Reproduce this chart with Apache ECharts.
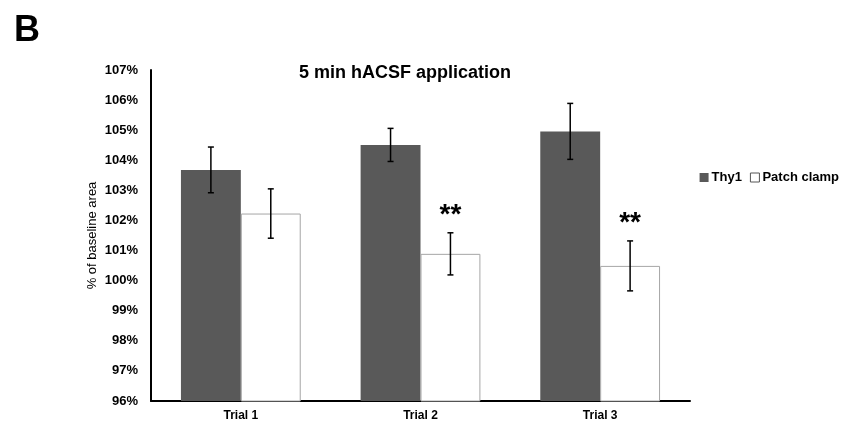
<!DOCTYPE html>
<html><head><meta charset="utf-8">
<script src="https://cdn.jsdelivr.net/npm/echarts@6/dist/echarts.min.js"></script>
<style>html,body{margin:0;padding:0;background:#fff}#c{width:848px;height:430px}</style>
</head><body><div id="c"></div>
<script>
var categories = ['Trial 1', 'Trial 2', 'Trial 3'];
var thy1 = [103.68, 104.51, 104.96];
var thy1Err = [0.76, 0.55, 0.93];
var patch = [102.23, 100.89, 100.49];
var patchErr = [0.82, 0.70, 0.83];
var significance = ['', '**', '**'];
var yTicks = [96, 97, 98, 99, 100, 101, 102, 103, 104, 105, 106, 107];

var FONT = 'Liberation Sans, Arial, sans-serif';
var chart = echarts.init(document.getElementById('c'));

function errSeries(vals, errs, seriesIdx) {
  return {
    type: 'custom',
    z: 5,
    silent: true,
    data: vals.map(function (v, i) { return [i, v - errs[i], v + errs[i]]; }),
    renderItem: function (params, api) {
      var i = api.value(0);
      var lo = api.coord([i, api.value(1)]);
      var hi = api.coord([i, api.value(2)]);
      var bw = api.size([1, 0])[0];
      var barW = bw * (1 - 0.3333) / 2;
      var x = lo[0] + (seriesIdx === 0 ? -barW / 2 : barW / 2);
      var cap = 3;
      var st = { stroke: '#000', lineWidth: 1.5 };
      return { type: 'group', children: [
        { type: 'line', shape: { x1: x, y1: lo[1], x2: x, y2: hi[1] }, style: st },
        { type: 'line', shape: { x1: x - cap, y1: lo[1], x2: x + cap, y2: lo[1] }, style: st },
        { type: 'line', shape: { x1: x - cap, y1: hi[1], x2: x + cap, y2: hi[1] }, style: st }
      ]};
    }
  };
}

chart.setOption({
  animation: false,
  backgroundColor: '#fff',
  title: [
    { text: 'B', left: 9, top: 8, textStyle: { fontFamily: FONT, fontSize: 36, fontWeight: 'bold', color: '#000' } },
    { text: '5 min hACSF application', left: 400, top: 59, textAlign: 'center', textStyle: { fontFamily: FONT, fontSize: 18, fontWeight: 'bold', color: '#000' } }
  ],
  legend: {
    right: 4, top: 166, itemGap: 8, itemWidth: 9, itemHeight: 9,
    icon: 'rect',
    textStyle: { fontFamily: FONT, fontSize: 13, fontWeight: 'bold', color: '#000', padding: [0, 0, 0, -2] },
    data: [
      { name: 'Thy1', itemStyle: { color: '#595959', borderColor: '#595959' } },
      { name: 'Patch clamp', itemStyle: { color: '#fff', borderColor: '#555', borderWidth: 1 } }
    ]
  },
  grid: { left: 151, right: 158, top: 70, bottom: 29 },
  xAxis: {
    type: 'category', data: categories,
    axisLine: { lineStyle: { color: '#000', width: 2 } },
    axisTick: { show: false },
    axisLabel: { fontFamily: FONT, fontSize: 12, fontWeight: 'bold', color: '#000', margin: 9 }
  },
  yAxis: {
    type: 'value', min: 96, max: 107, interval: 1,
    name: '% of baseline area', nameLocation: 'middle', nameGap: 52, nameMoveOverlap: false,
    nameTextStyle: { fontFamily: FONT, fontSize: 13, color: '#000' },
    axisLine: { show: true, lineStyle: { color: '#000', width: 2 } },
    axisTick: { show: false },
    splitLine: { show: false },
    axisLabel: { fontFamily: FONT, fontSize: 13, fontWeight: 'bold', color: '#000', margin: 13,
      formatter: function (v) { return yTicks.indexOf(v) >= 0 ? v + '%' : ''; } }
  },
  series: [
    { name: 'Thy1', type: 'bar', data: thy1, barGap: '0%', barCategoryGap: '33.33%',
      itemStyle: { color: '#595959' } },
    { name: 'Patch clamp', type: 'bar', data: patch,
      itemStyle: { color: '#fff', borderColor: '#a6a6a6', borderWidth: 1 } },
    errSeries(thy1, thy1Err, 0),
    errSeries(patch, patchErr, 1),
    {
      type: 'custom', z: 6, silent: true,
      data: patch.map(function (v, i) { return [i, v + patchErr[i], significance[i]]; }),
      renderItem: function (params, api) {
        var i = api.value(0);
        var p = api.coord([i, api.value(1)]);
        var bw = api.size([1, 0])[0];
        var barW = bw * (1 - 0.3333) / 2;
        return { type: 'text', style: { text: significance[i], x: p[0] + barW / 2, y: p[1] - 4,
          textAlign: 'center', textVerticalAlign: 'bottom',
          font: 'bold 28px ' + FONT, fill: '#000' } };
      }
    }
  ]
});
</script>
</body></html>
